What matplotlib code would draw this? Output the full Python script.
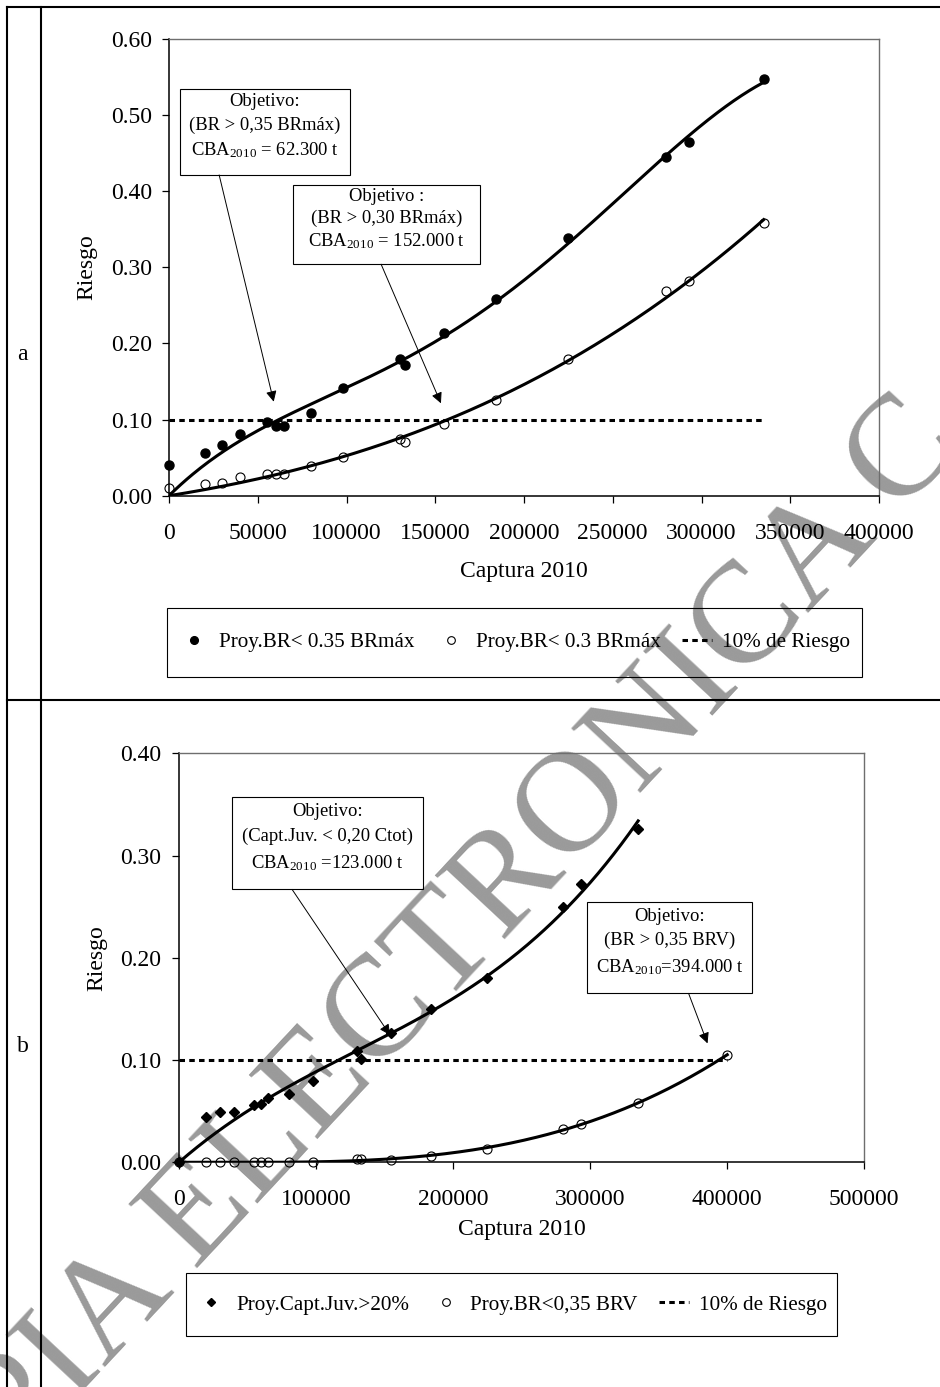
import numpy as np
import matplotlib
matplotlib.use("Agg")
import matplotlib.pyplot as plt
from matplotlib.lines import Line2D
from matplotlib.patches import Rectangle
from matplotlib.ticker import FuncFormatter

plt.rcParams["font.family"] = ["Liberation Serif", "DejaVu Serif"]
plt.rcParams["mathtext.fontset"] = "custom"
plt.rcParams["mathtext.rm"] = "Liberation Serif"
plt.rcParams["mathtext.it"] = "Liberation Serif:italic"
plt.rcParams["mathtext.bf"] = "Liberation Serif:bold"

### DATA
captura = [0, 20000, 30000, 40000, 55000, 60000, 65000, 80000, 98000,
           130000, 133000, 155000, 184000, 225000, 280000, 293000, 335000]
captura_b = captura + [400000]

# panel a
riesgo_br035 = [0.040, 0.056, 0.066, 0.081, 0.097, 0.092, 0.092, 0.108, 0.142,
                0.179, 0.172, 0.214, 0.258, 0.339, 0.445, 0.465, 0.547]
riesgo_br030 = [0.010, 0.015, 0.017, 0.025, 0.029, 0.028, 0.028, 0.039, 0.051,
                0.074, 0.071, 0.094, 0.126, 0.180, 0.269, 0.282, 0.358]

# panel b
riesgo_juv = [0.000, 0.044, 0.049, 0.049, 0.056, 0.057, 0.063, 0.067, 0.080,
              0.109, 0.101, 0.126, 0.150, 0.180, 0.250, 0.272, 0.326]
riesgo_brv = [0.000, 0.000, 0.000, 0.000, 0.000, 0.000, 0.000, 0.0005, 0.000,
              0.003, 0.003, 0.002, 0.006, 0.013, 0.033, 0.037, 0.058, 0.105]

limite_riesgo = 0.10

W, H = 940, 1387


def fig_xy(x, y):
    # pixel position (from top-left) -> figure fraction
    return x / W, 1 - y / H


def trend(x, y, order):
    # polynomial trend line forced through the origin (Excel style)
    x = np.asarray(x, float) / 1e5
    y = np.asarray(y, float)
    A = np.column_stack([x ** k for k in range(1, order + 1)])
    coef = np.linalg.lstsq(A, y, rcond=None)[0]
    xs = np.linspace(0, x.max(), 300)
    ys = np.column_stack([xs ** k for k in range(1, order + 1)]) @ coef
    return xs * 1e5, ys


def objetivo(ax, x0, x1, y0, y1, lineas, origen, punta):
    ax.add_patch(Rectangle((x0, y0), x1 - x0, y1 - y0, fill=False,
                           ec="black", lw=0.8, clip_on=False, zorder=5))
    for rel, txt in zip((0.15, 0.42, 0.71), lineas):
        ax.text((x0 + x1) / 2, y1 - rel * (y1 - y0), txt, ha="center",
                va="center", fontsize=13.4, zorder=5)
    ax.annotate("", xy=punta, xytext=origen,
                arrowprops=dict(arrowstyle="-|>", color="black", lw=0.7,
                                mutation_scale=16, shrinkA=0, shrinkB=0))


def style(ax, xpad, ypad):
    ax.set_facecolor("none")
    for s in ("top", "right"):
        ax.spines[s].set_color("#6e6e6e")
        ax.spines[s].set_linewidth(1.0)
    for s in ("left", "bottom"):
        ax.spines[s].set_linewidth(1.1)
    ax.tick_params(direction="out", length=5, width=0.9, labelsize=17)
    ax.tick_params(axis="x", pad=xpad)
    ax.tick_params(axis="y", pad=ypad)
    ax.xaxis.set_major_formatter(FuncFormatter(lambda v, p: f"{v:.0f}"))
    ax.yaxis.set_major_formatter(FuncFormatter(lambda v, p: f"{v:.2f}"))


def leyenda(ax, x0, x1, y0, y1):
    # legend without its own frame, boxed by a rectangle (figure pixels)
    ax.legend(loc="center", bbox_to_anchor=fig_xy((x0 + x1) / 2, (y0 + y1) / 2),
              bbox_transform=fig.transFigure, ncol=3, fontsize=15.2,
              frameon=False, handlelength=1.45, handletextpad=0.45,
              columnspacing=1.0, borderpad=0.0, markerscale=0.85)
    fig.add_artist(Rectangle(fig_xy(x0, y1), (x1 - x0) / W, (y1 - y0) / H,
                             transform=fig.transFigure, fill=False,
                             ec="black", lw=0.8))


### PLOT
fig = plt.figure(figsize=(W / 100, H / 100), dpi=100)

# watermark, under everything
fig.text(*fig_xy(422, 1027), "COPIA ELECTRONICA C", fontsize=104, color="#9a9a9a",
         rotation=47, rotation_mode="anchor", ha="center", va="baseline", zorder=-1)

# table lines
for xs, ys in [([7, W], [7, 7]), ([7, W], [700, 700]),
               ([7, 7], [7, H]), ([41, 41], [7, H])]:
    fig.add_artist(Line2D([x / W for x in xs], [1 - y / H for y in ys],
                          transform=fig.transFigure, color="black", lw=1.5))
fig.text(*fig_xy(22, 355), "a", fontsize=17, ha="center", va="center")
fig.text(*fig_xy(23, 1047), "b", fontsize=17, ha="center", va="center")

# ---- panel a
ax_a = fig.add_axes([169 / W, 1 - 495.7 / H, 710 / W, 456.7 / H])
style(ax_a, 15, 7)
ax_a.plot(*trend(captura, riesgo_br035, 4), color="black", lw=2.2, zorder=3)
ax_a.plot(*trend(captura, riesgo_br030, 3), color="black", lw=2.2, zorder=3)
ax_a.plot(captura, riesgo_br035, "o", color="black", ms=6.5, clip_on=False,
          zorder=4, label="Proy.BR< 0.35 BRmáx")
ax_a.plot(captura, riesgo_br030, "o", mfc="none", mec="black", mew=0.8, ms=6.5,
          clip_on=False, zorder=4, label="Proy.BR< 0.3 BRmáx")
ax_a.plot([0, max(captura)], [limite_riesgo, limite_riesgo], color="black", lw=2.2,
          ls=(0, (1.8, 1.4)), zorder=2, label="10% de Riesgo")
ax_a.set_xlim(0, 400000)
ax_a.set_ylim(0, 0.6)
ax_a.set_xticks(np.arange(0, 400001, 50000))
ax_a.set_yticks(np.arange(0, 0.61, 0.1))
ax_a.set_xlabel("Captura 2010", fontsize=17)
ax_a.xaxis.label.set_va("center")
ax_a.xaxis.set_label_coords(0.5, -(571 - 495.7) / 456.7)
ax_a.set_ylabel("Riesgo", fontsize=17)
ax_a.yaxis.label.set_va("center")
ax_a.yaxis.set_label_coords((87 - 169) / 710, 0.5)

objetivo(ax_a, 6350, 101850, 0.4214, 0.5348,
         ["Objetivo:", "(BR > 0,35 BRmáx)", r"CBA$_{\mathrm{2010}}$ = 62.300 t"],
         (28250, 0.4214), (59000, 0.1235))
objetivo(ax_a, 69830, 175120, 0.3041, 0.4083,
         ["Objetivo :", "(BR > 0,30 BRmáx)", r"CBA$_{\mathrm{2010}}$ = 152.000 t"],
         (119500, 0.3041), (153200, 0.1214))

leyenda(ax_a, 167, 862, 607.7, 677.3)

# ---- panel b
ax_b = fig.add_axes([179 / W, 1 - 1162.3 / H, 685.3 / W, 409 / H])
style(ax_b, 14, 8)
ax_b.plot(*trend(captura, riesgo_juv, 3), color="black", lw=2.2, zorder=3)
ax_b.plot(*trend(captura_b, riesgo_brv, 3), color="black", lw=2.2, zorder=3)
ax_b.plot(captura, riesgo_juv, "D", color="black", ms=5, clip_on=False,
          zorder=4, label="Proy.Capt.Juv.>20%")
ax_b.plot(captura_b, riesgo_brv, "o", mfc="none", mec="black", mew=0.8, ms=6.5,
          clip_on=False, zorder=4, label="Proy.BR<0,35 BRV")
ax_b.plot([0, max(captura_b)], [limite_riesgo, limite_riesgo], color="black", lw=2.2,
          ls=(0, (1.8, 1.4)), zorder=2, label="10% de Riesgo")
ax_b.set_xlim(0, 500000)
ax_b.set_ylim(0, 0.4)
ax_b.set_xticks(np.arange(0, 500001, 100000))
ax_b.set_yticks(np.arange(0, 0.41, 0.1))
ax_b.set_xlabel("Captura 2010", fontsize=17)
ax_b.xaxis.label.set_va("center")
ax_b.xaxis.set_label_coords(0.5, -(1230 - 1162.3) / 409)
ax_b.set_ylabel("Riesgo", fontsize=17)
ax_b.yaxis.label.set_va("center")
ax_b.yaxis.set_label_coords((97 - 179) / 685.3, 0.5)

objetivo(ax_b, 38470, 178320, 0.2669, 0.3568,
         ["Objetivo:", "(Capt.Juv. < 0,20 Ctot)", r"CBA$_{\mathrm{2010}}$ =123.000 t"],
         (82500, 0.2669), (154000, 0.1244))
objetivo(ax_b, 298030, 418030, 0.1652, 0.2542,
         ["Objetivo:", "(BR > 0,35 BRV)", r"CBA$_{\mathrm{2010}}$=394.000 t"],
         (371800, 0.1652), (385600, 0.1163))

leyenda(ax_b, 186.3, 836.7, 1273.3, 1336)

fig.savefig("out.png", dpi=100)
